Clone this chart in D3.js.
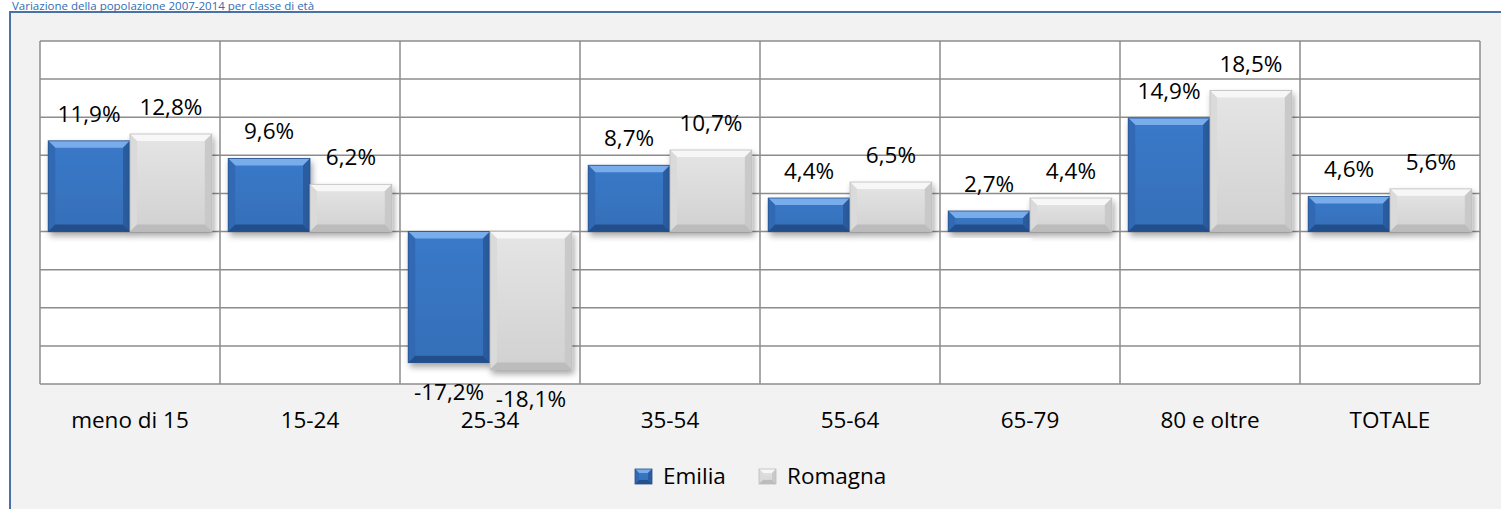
<!DOCTYPE html>
<html>
<head>
<meta charset="utf-8">
<title>Variazione della popolazione</title>
<style type="text/css">
    body{
        margin: 0;
        background-color: #fff;
    }
    svg{
        display: block;
        font-family: "Open Sans", "Noto Sans", sans-serif;
    }
    .grid line{
        stroke: #8c8c8c;
        stroke-width: 1.5px;
    }
    .lbl{
        font-size: 22.5px;
        fill: #000;
    }
</style>
<script type="text/javascript" src="https://cdn.jsdelivr.net/npm/d3@7"></script>
</head>
<body>
<div id="chart"></div>
<script type="text/javascript">
    var categories = ['meno di 15', '15-24', '25-34', '35-54', '55-64', '65-79', '80 e oltre', 'TOTALE'];
    var series = ['Emilia', 'Romagna'];
    var emilia = [11.9, 9.6, -17.2, 8.7, 4.4, 2.7, 14.9, 4.6];
    var romagna = [12.8, 6.2, -18.1, 10.7, 6.5, 4.4, 18.5, 5.6];
    var yTicks = [-20, -15, -10, -5, 0, 5, 10, 15, 20, 25];
    var title = 'Variazione della popolazione 2007-2014 per classe di età';

    var width = 1501, height = 509;
    var plot = {left: 40, right: 1480, top: 41, bottom: 384};

    // colours for the bevelled bars: face, top, left, right, bottom
    var palette = {
        Emilia:  ['#3a79c9', '#79aceb', '#3169b4', '#2a5c9f', '#24508c'],
        Romagna: ['#e5e5e5', '#f7f7f7', '#dadada', '#c9c9c9', '#bcbcbc']
    };

    var svg = d3.select('#chart')
        .append('svg')
        .attr('width', width)
        .attr('height', height);

    var defs = svg.append('defs');
    var f = defs.append('filter').attr('id', 'shadow')
        .attr('x', '-20%').attr('y', '-20%').attr('width', '150%').attr('height', '150%');
    f.append('feDropShadow')
        .attr('dx', 2).attr('dy', 4)
        .attr('stdDeviation', 3)
        .attr('flood-color', '#000')
        .attr('flood-opacity', 0.35);

    // face gradients, a little darker towards the bottom
    series.forEach(function(s){
        var lg = defs.append('linearGradient').attr('id', 'face-' + s)
            .attr('x1', 0).attr('y1', 0).attr('x2', 0).attr('y2', 1);
        lg.append('stop').attr('offset', '0%').attr('stop-color', palette[s][0]);
        lg.append('stop').attr('offset', '100%').attr('stop-color', d3.color(palette[s][0]).darker(0.25));
    });

    // outer frame
    svg.append('rect')
        .attr('x', 10).attr('y', 12)
        .attr('width', width + 20).attr('height', height + 20)
        .attr('fill', '#f2f2f2')
        .attr('stroke', '#4a72a5')
        .attr('stroke-width', 2);

    svg.append('text')
        .attr('x', 12).attr('y', 10)
        .attr('fill', '#2f6db5')
        .style('font-size', '11.5px')
        .text(title);

    var xScale = d3.scaleBand()
        .domain(categories)
        .range([plot.left, plot.right]);

    var xSub = d3.scaleBand()
        .domain(series)
        .range([0, xScale.bandwidth()])
        .paddingOuter(0.1);

    var yScale = d3.scaleLinear()
        .domain([d3.min(yTicks), d3.max(yTicks)])
        .range([plot.bottom, plot.top]);

    // plot background
    svg.append('rect')
        .attr('x', plot.left).attr('y', plot.top)
        .attr('width', plot.right - plot.left)
        .attr('height', plot.bottom - plot.top)
        .attr('fill', '#fff');

    var grid = svg.append('g').attr('class', 'grid');
    grid.selectAll('.h')
        .data(yTicks)
        .enter()
        .append('line')
        .attr('x1', plot.left).attr('x2', plot.right)
        .attr('y1', function(d){ return yScale(d); })
        .attr('y2', function(d){ return yScale(d); });

    var bounds = categories.map(function(c){ return xScale(c); }).concat([plot.right]);
    grid.selectAll('.v')
        .data(bounds)
        .enter()
        .append('line')
        .attr('x1', function(d){ return d; }).attr('x2', function(d){ return d; })
        .attr('y1', plot.top).attr('y2', plot.bottom);

    var rows = [];
    categories.forEach(function(c, i){
        rows.push({cat: c, s: 'Emilia', v: emilia[i]});
        rows.push({cat: c, s: 'Romagna', v: romagna[i]});
    });

    function bevel(g, x, y, w, h, s, b){
        var cols = palette[s];
        b = Math.min(b, h / 2, w / 2);
        g.append('rect').attr('x', x).attr('y', y).attr('width', w).attr('height', h)
            .attr('fill', 'url(#face-' + s + ')');
        var x2 = x + w, y2 = y + h;
        var faces = [
            [[x, y], [x2, y], [x2 - b, y + b], [x + b, y + b], cols[1]],
            [[x, y], [x + b, y + b], [x + b, y2 - b], [x, y2], cols[2]],
            [[x2, y], [x2, y2], [x2 - b, y2 - b], [x2 - b, y + b], cols[3]],
            [[x, y2], [x + b, y2 - b], [x2 - b, y2 - b], [x2, y2], cols[4]]
        ];
        faces.forEach(function(p){
            g.append('polygon')
                .attr('points', p.slice(0, 4).map(function(q){ return q.join(','); }).join(' '))
                .attr('fill', p[4]);
        });
        g.append('rect').attr('x', x).attr('y', y).attr('width', w).attr('height', h)
            .attr('fill', 'none').attr('stroke', cols[4]).attr('stroke-width', 0.8);
    }

    var bars = svg.append('g').attr('class', 'bars');
    rows.forEach(function(d){
        var g = bars.append('g').attr('filter', 'url(#shadow)');
        var x = xScale(d.cat) + xSub(d.s);
        var y0 = yScale(Math.max(0, d.v)), y1 = yScale(Math.min(0, d.v));
        bevel(g, x, y0, xSub.bandwidth(), y1 - y0, d.s, 7);
    });

    svg.append('g').selectAll('text')
        .data(rows)
        .enter()
        .append('text')
        .attr('class', 'lbl')
        .attr('text-anchor', 'middle')
        .attr('x', function(d){ return xScale(d.cat) + xSub(d.s) + xSub.bandwidth() / 2; })
        .attr('y', function(d){ return d.v >= 0 ? yScale(d.v) - 19 : yScale(d.v) + 37; })
        .text(function(d){ return d.v.toFixed(1).replace('.', ',') + '%'; });

    svg.append('g').selectAll('text')
        .data(categories)
        .enter()
        .append('text')
        .attr('class', 'lbl')
        .attr('text-anchor', 'middle')
        .attr('x', function(d){ return xScale(d) + xScale.bandwidth() / 2; })
        .attr('y', 428)
        .text(function(d){ return d; });

    // legend
    var legX = [635, 759];
    var leg = svg.append('g');
    series.forEach(function(s, i){
        var g = leg.append('g');
        bevel(g, legX[i], 469, 17, 15, s, 4);
        leg.append('text')
            .attr('class', 'lbl')
            .attr('x', legX[i] + 28)
            .attr('y', 484)
            .text(s);
    });
</script>
</body>
</html>
